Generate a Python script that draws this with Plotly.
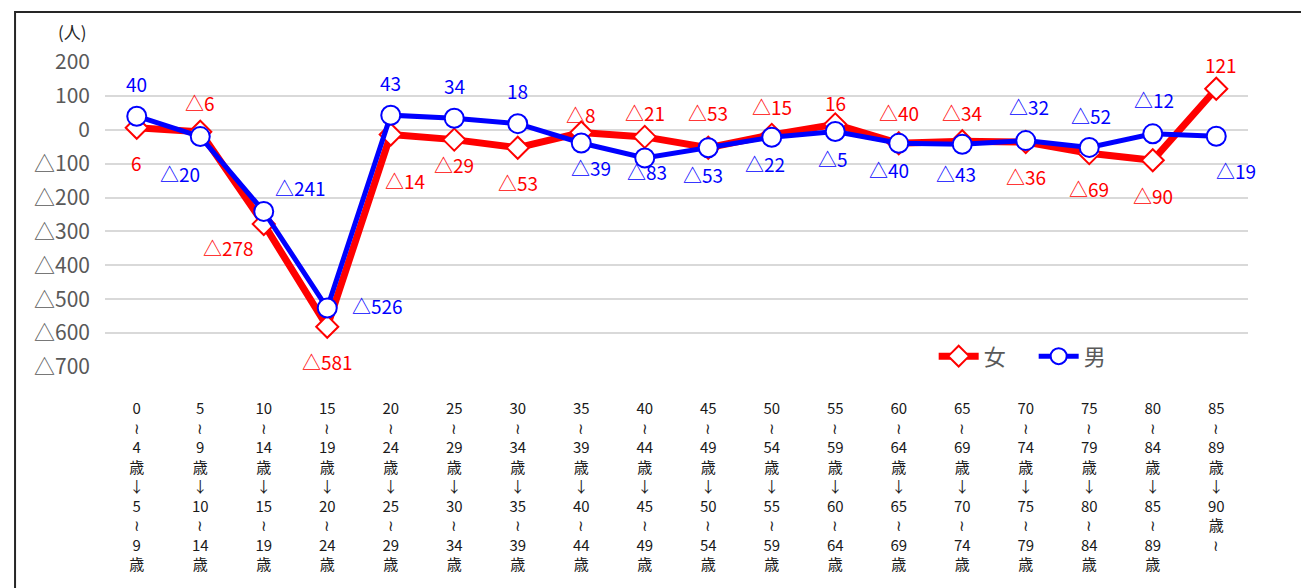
import plotly.graph_objects as go

# age transitions (5-year cohort shift)
age_from = ["0～4", "5～9", "10～14", "15～19", "20～24", "25～29", "30～34", "35～39", "40～44",
            "45～49", "50～54", "55～59", "60～64", "65～69", "70～74", "75～79", "80～84", "85～89"]
age_to = ["5～9", "10～14", "15～19", "20～24", "25～29", "30～34", "35～39", "40～44", "45～49",
          "50～54", "55～59", "60～64", "65～69", "70～74", "75～79", "80～84", "85～89", "90～"]

female = [6, -6, -278, -581, -14, -29, -53, -8, -21, -53, -15, 16, -40, -34, -36, -69, -90, 121]
male = [40, -20, -241, -526, 43, 34, 18, -39, -83, -53, -22, -5, -40, -43, -32, -52, -12, -19]

y_ticks = [200, 100, 0, -100, -200, -300, -400, -500, -600, -700]


def tri(v):
    return f"△{abs(v)}" if v < 0 else f"{v}"


def vertical(s):
    # stack characters vertically, keep multi-digit numbers together
    parts, buf = [], ""
    for ch in s:
        if ch.isdigit():
            buf += ch
        else:
            if buf:
                parts.append(buf)
                buf = ""
            parts.append("≀" if ch == "～" else ch)
    if buf:
        parts.append(buf)
    return parts


cats = [f"c{i}" for i in range(len(age_from))]
tick_text = []
for a, b in zip(age_from, age_to):
    if b.endswith("～"):
        lines = vertical(a) + ["歳", "↓"] + vertical(b[:-1]) + ["歳", "≀"]
    else:
        lines = vertical(a) + ["歳", "↓"] + vertical(b) + ["歳"]
    tick_text.append("<br>".join(lines))

# label offsets in pixels (dx, dy), dy up
f_off = [(0, -35), (0, 29), (-35, -24), (0, -35), (14, -46), (0, -25), (0, -35), (0, 18),
         (0, 24), (0, 35), (0, 28), (0, 22), (0, 31), (0, 29), (0, -35), (0, -35), (0, -35), (5, 24)]
m_off = [(0, 33), (-20, -37), (37, 24), (50, 3), (0, 33), (0, 33), (0, 33), (10, -25),
         (2, -14), (-5, -27), (-7, -26), (-2, -27), (-10, -26), (-6, -29), (3, 34), (2, 32),
         (1, 34), (20, -34)]

jp = "Noto Sans CJK JP"

fig = go.Figure()
fig.add_trace(go.Scatter(
    x=cats, y=female, name="女", mode="lines+markers",
    line=dict(color="#FF0000", width=7),
    marker=dict(symbol="diamond", size=17, color="white", line=dict(color="#FF0000", width=2)),
    cliponaxis=False,
))
fig.add_trace(go.Scatter(
    x=cats, y=male, name="男", mode="lines+markers",
    line=dict(color="#0000FF", width=5),
    marker=dict(symbol="circle", size=19, color="white", line=dict(color="#0000FF", width=2)),
    cliponaxis=False,
))

for vals, offs, col in [(female, f_off, "#FF0000"), (male, m_off, "#0000FF")]:
    for c, v, (dx, dy) in zip(cats, vals, offs):
        fig.add_annotation(x=c, y=v, text=tri(v), showarrow=False, xshift=dx, yshift=dy,
                           font=dict(color=col, size=19, family=jp))

fig.update_layout(
    width=1309, height=588,
    margin=dict(l=97, r=69, t=54, b=229),
    plot_bgcolor="white", paper_bgcolor="white",
    showlegend=True,
    legend=dict(orientation="h", x=0.725, y=0.035, xanchor="left", yanchor="middle",
                entrywidth=45, itemwidth=40,
                font=dict(size=22, color="#595959", family=jp),
                bgcolor="rgba(0,0,0,0)"),
    font=dict(family=jp),
)
fig.update_xaxes(
    tickvals=cats, ticktext=tick_text, range=[-0.5, 17.5],
    showgrid=False, zeroline=False, showline=False, ticks="",
    tickfont=dict(size=15, color="#1a1a1a", family=jp),
    ticklabelstandoff=31,
)
fig.update_yaxes(
    range=[-700, 200], tickvals=y_ticks, ticktext=[tri(v) for v in y_ticks],
    showgrid=True, gridcolor="#d9d9d9", gridwidth=2, zeroline=False, showline=False,
    tickfont=dict(size=21, color="#595959", family=jp),
    ticklabelstandoff=14,
)

fig.add_annotation(text="(人)", xref="paper", yref="paper", x=-0.028, y=1.1,
                   showarrow=False, xanchor="center", yanchor="middle",
                   font=dict(size=17, color="#262626", family=jp))

# outer frame of the chart object
fig.add_shape(type="rect", xref="paper", yref="paper", x0=-0.0787, x1=1.0569, y0=-0.8, y1=1.164,
              line=dict(color="#262626", width=2), fillcolor="rgba(0,0,0,0)", layer="below")

fig.write_html("out.html")
